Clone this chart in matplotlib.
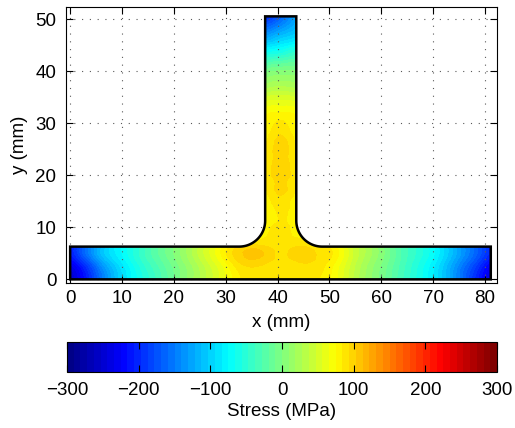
import numpy as np
import matplotlib
matplotlib.use("Agg")
import matplotlib.pyplot as plt
from matplotlib.path import Path
from matplotlib.patches import PathPatch
from matplotlib.colors import LinearSegmentedColormap
import matplotlib.tri as mtri

plt.rcParams['font.family'] = ['Liberation Sans', 'DejaVu Sans']

# geometry of the T section (mm)
flange_len = 81.1
flange_h = 6.3
web_left = 37.6
web_right = 43.6
web_top = 50.6
fillet_r = 5.0

# stress (MPa), flange rows at y = 0, 3.2, 6.3
flange_x = [0, 2.5, 5, 10, 15, 20, 25, 30, 33, 36, 40.6, 45, 48, 51, 55, 60, 65, 70, 75, 78.5, 81.1]
flange_y = [0, 3.2, 6.3]
flange_bot = [-255, -220, -175, -95, -50, -10, 28, 65, 84, 90, 88, 90, 84, 70, 32, -5, -45, -85, -150, -205, -240]
flange_mid = [-230, -195, -150, -85, -40, -5, 33, 74, 95, 98, 90, 94, 90, 75, 38, 0, -40, -80, -140, -185, -222]
flange_top = [-212, -172, -130, -75, -35, 0, 38, 78, 96, 98, 90, 94, 88, 76, 40, 2, -38, -75, -130, -170, -208]

# web columns at x = left edge, centre, right edge
web_x = [37.6, 40.6, 43.6]
web_y = [9, 12, 15, 18, 22, 26, 29, 32, 35, 38, 41, 44, 47, 50.6]
web_l = [82, 80, 80, 84, 86, 84, 80, 72, 45, 15, -22, -78, -135, -200]
web_c = [88, 85, 90, 97, 102, 98, 90, 76, 50, 20, -12, -66, -115, -165]
web_r = [82, 80, 80, 84, 86, 84, 80, 72, 45, 18, -10, -56, -100, -125]

# points on the fillets
fillet_px = [36.1, 45.1]
fillet_py = [7.8, 7.8]
fillet_v = [84, 84]

cb_ticks = [-300, -200, -100, 0, 100, 200, 300]
cb_labels = ['\u2212300', '\u2212200', '\u2212100', '0', '100', '200', '300']

# build scattered point set
px, py, pv = [], [], []
for yy, row in zip(flange_y, [flange_bot, flange_mid, flange_top]):
    px += flange_x
    py += [yy] * len(flange_x)
    pv += row
for xx, col in zip(web_x, [web_l, web_c, web_r]):
    px += [xx] * len(web_y)
    py += web_y
    pv += col
px += fillet_px
py += fillet_py
pv += fillet_v

# outline path of the T
def arc(cx, cy, r, a0, a1, n=30):
    a = np.linspace(np.radians(a0), np.radians(a1), n)
    return list(zip(cx + r * np.cos(a), cy + r * np.sin(a)))

verts = [(0, 0), (flange_len, 0), (flange_len, flange_h), (web_right + fillet_r, flange_h)]
verts += arc(web_right + fillet_r, flange_h + fillet_r, fillet_r, 270, 180)
verts += [(web_right, web_top), (web_left, web_top)]
verts += arc(web_left - fillet_r, flange_h + fillet_r, fillet_r, 0, -90)
verts += [(0, flange_h), (0, 0)]
codes = [Path.MOVETO] + [Path.LINETO] * (len(verts) - 2) + [Path.CLOSEPOLY]
tpath = Path(verts, codes)

# matlab style jet, 64 steps
jet_ml = LinearSegmentedColormap.from_list('jet_ml', [
    (0.0, (0, 0, 0.53)), (0.125, (0, 0, 1)), (0.375, (0, 1, 1)),
    (0.625, (1, 1, 0)), (0.875, (1, 0, 0)), (1.0, (0.5, 0, 0))], N=64)

fig = plt.figure(figsize=(5.15, 4.28), dpi=100)
ax = fig.add_axes([66 / 515, 1 - 283 / 428, 431 / 515, 276 / 428])

tri = mtri.Triangulation(px, py)
refiner = mtri.UniformTriRefiner(tri)
tri_f, pv_f = refiner.refine_field(np.array(pv, float), subdiv=3)
cs = ax.tricontourf(tri_f, pv_f, levels=np.linspace(-300, 300, 65), cmap=jet_ml,
                    vmin=-300, vmax=300, extend='both')
clip = PathPatch(tpath, transform=ax.transData, facecolor='none', edgecolor='none')
ax.add_patch(clip)
cs.set_clip_path(clip)
ax.add_patch(PathPatch(tpath, facecolor='none', edgecolor='k', lw=1.8, zorder=4))

ax.set_xlim(-0.8, 82.3)
ax.set_ylim(-0.7, 52.4)
ax.set_xticks(np.arange(0, 81, 10))
ax.set_yticks(np.arange(0, 51, 10))
ax.tick_params(direction='in', top=True, right=True, labelsize=13.5, length=5)
ax.tick_params(axis='x', pad=5)
ax.tick_params(axis='y', pad=7)
ax.grid(True, color='0.35', linestyle=(0, (1, 6)), linewidth=0.8)
ax.set_axisbelow(False)
ax.set_xlabel('x (mm)', fontsize=13.5, labelpad=5)
ax.set_ylabel('y (mm)', fontsize=13.5, labelpad=5)

cax = fig.add_axes([67 / 515, 1 - 372 / 428, 430 / 515, 30 / 428])
sm = plt.cm.ScalarMappable(norm=plt.Normalize(-300, 300), cmap=jet_ml)
cb = fig.colorbar(sm, cax=cax, orientation='horizontal', ticks=cb_ticks)
cb.ax.tick_params(direction='in', top=True, bottom=True, labelsize=13.5, length=5, pad=7)
cb.ax.set_xticklabels(cb_labels)
cb.set_label('Stress (MPa)', fontsize=13.5, labelpad=3)
cb.outline.set_linewidth(0.8)

fig.savefig('out.png', dpi=100)
